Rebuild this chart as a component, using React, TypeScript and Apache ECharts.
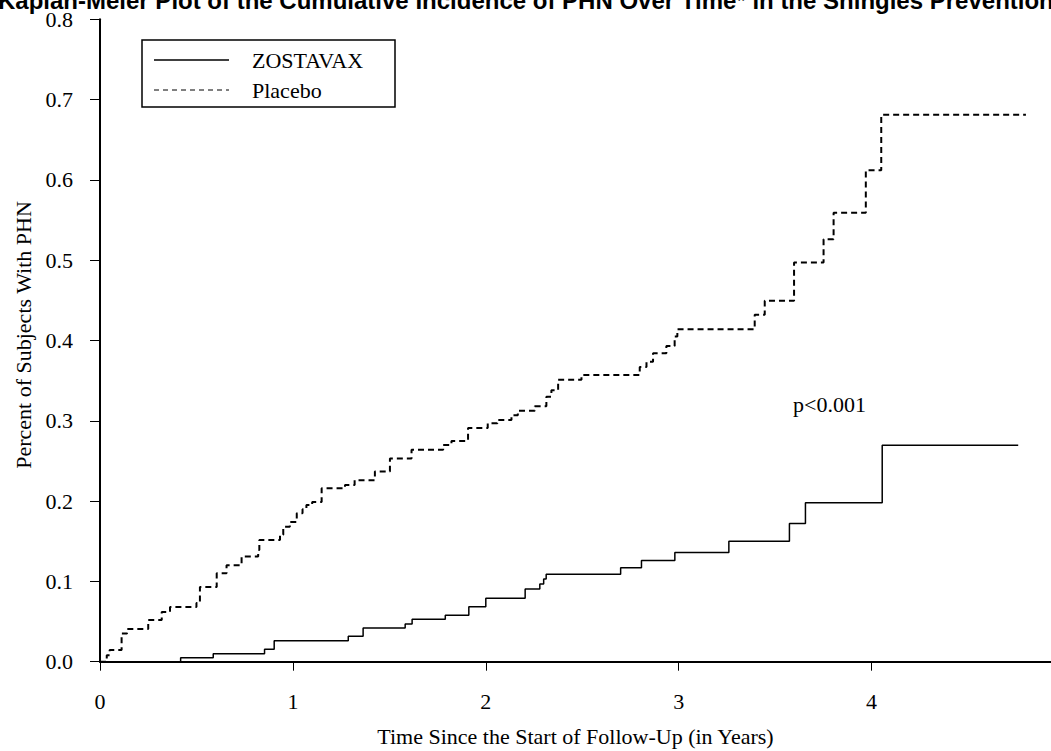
import React, { useEffect, useRef } from "react";
import * as echarts from "echarts";

const titleText =
  "Kaplan-Meier Plot of the Cumulative Incidence of PHN Over Time* in the Shingles Prevention";
const seriesNames = ["ZOSTAVAX", "Placebo"];
const xTicks = [0, 1, 2, 3, 4];
const xAxisTitle = "Time Since the Start of Follow-Up (in Years)";
const yAxisTitle = "Percent of Subjects With PHN";
const pValueLabel = "p<0.001";

const zostavaxTime = [
  0, 0.418, 0.587, 0.853, 0.903, 1.287, 1.364, 1.582, 1.618, 1.79, 1.912, 2.0,
  2.204, 2.28, 2.3, 2.313, 2.699, 2.807, 2.98, 3.26, 3.574, 3.657, 4.055, 4.76,
];
const zostavaxPct = [
  0, 0.005, 0.01, 0.0154, 0.026, 0.0316, 0.042, 0.047, 0.053, 0.058, 0.0685,
  0.079, 0.0905, 0.0968, 0.103, 0.109, 0.117, 0.126, 0.136, 0.15, 0.172, 0.198,
  0.2695, 0.2695,
];

const placeboTime = [
  0, 0.035, 0.05, 0.112, 0.14, 0.25, 0.32, 0.363, 0.5, 0.518, 0.605, 0.656,
  0.734, 0.82, 0.826, 0.933, 0.95, 0.984, 1.02, 1.05, 1.07, 1.1, 1.149, 1.27,
  1.32, 1.425, 1.503, 1.615, 1.779, 1.822, 1.908, 2.01, 2.06, 2.133, 2.166,
  2.254, 2.314, 2.34, 2.375, 2.496, 2.798, 2.833, 2.867, 2.936, 2.979, 2.993,
  3.394, 3.446, 3.598, 3.751, 3.803, 3.97, 4.05, 4.8,
];
const placeboPct = [
  0, 0.008, 0.0146, 0.035, 0.0407, 0.052, 0.062, 0.068, 0.073, 0.093, 0.11,
  0.12, 0.131, 0.139, 0.1515, 0.158, 0.168, 0.174, 0.185, 0.19, 0.195, 0.199,
  0.216, 0.22, 0.226, 0.237, 0.253, 0.264, 0.27, 0.275, 0.291, 0.297, 0.301,
  0.307, 0.3126, 0.318, 0.33, 0.338, 0.351, 0.357, 0.367, 0.3736, 0.384, 0.393,
  0.405, 0.414, 0.432, 0.4496, 0.497, 0.526, 0.559, 0.612, 0.681, 0.681,
];

const zip = (a: number[], b: number[]) => a.map((v, i) => [v, b[i]]);

export default function App() {
  const ref = useRef<HTMLDivElement>(null);
  useEffect(() => {
    const chart = echarts.init(ref.current!, null, { renderer: "svg" });
    const serif = "'Liberation Serif', 'Times New Roman', serif";
    const axisCommon = {
      axisLine: { show: true, onZero: false, lineStyle: { color: "#000", width: 2 } },
      splitLine: { show: false },
    };
    chart.setOption({
      animation: false,
      backgroundColor: "#fff",
      grid: {
        left: 100,
        right: 0,
        top: 19.3,
        bottom: 89.3,
        containLabel: false,
        outerBoundsMode: "none",
      },
      xAxis: {
        type: "value",
        min: 0,
        max: 4.93,
        interval: 1,
        ...axisCommon,
        axisTick: { show: true, length: 9, lineStyle: { color: "#000", width: 1 }, customValues: xTicks },
        axisLabel: {
          customValues: xTicks,
          color: "#000",
          fontFamily: serif,
          fontSize: 22,
          margin: 29,
          formatter: (v: number) => (Number.isInteger(v) ? String(v) : ""),
        },
        name: xAxisTitle,
        nameLocation: "middle",
        nameGap: 64,
        nameTextStyle: { color: "#000", fontFamily: serif, fontSize: 22 },
      },
      yAxis: {
        type: "value",
        min: 0,
        max: 0.8,
        interval: 0.1,
        ...axisCommon,
        axisTick: { show: true, length: 10, lineStyle: { color: "#000", width: 1 } },
        axisLabel: {
          color: "#000",
          fontFamily: serif,
          fontSize: 22,
          margin: 27,
          formatter: (v: number) => v.toFixed(1),
        },
      },
      series: [
        {
          name: seriesNames[0],
          type: "line",
          step: "end",
          showSymbol: false,
          data: zip(zostavaxTime, zostavaxPct),
          lineStyle: { color: "#000", width: 1.5 },
        },
        {
          name: seriesNames[1],
          type: "line",
          step: "end",
          showSymbol: false,
          data: zip(placeboTime, placeboPct),
          lineStyle: { color: "#000", width: 2, type: [6, 4] },
        },
      ],
      graphic: [
        {
          type: "text",
          x: -2,
          y: 0,
          style: {
            text: titleText,
            fill: "#000",
            font: "bold 24px 'Liberation Sans', Arial, sans-serif",
            verticalAlign: "middle",
          },
        },
        {
          type: "text",
          x: 23,
          y: 335,
          rotation: Math.PI / 2,
          style: {
            text: yAxisTitle,
            fill: "#000",
            font: `22px ${serif}`,
            align: "center",
            verticalAlign: "middle",
          },
        },
        {
          type: "rect",
          shape: { x: 142, y: 40, width: 253, height: 67 },
          style: { fill: "#fff", stroke: "#000", lineWidth: 1.5 },
        },
        {
          type: "line",
          shape: { x1: 154, y1: 60, x2: 229, y2: 60 },
          style: { stroke: "#000", lineWidth: 1.5 },
        },
        {
          type: "line",
          shape: { x1: 154, y1: 90, x2: 229, y2: 90 },
          style: { stroke: "#000", lineWidth: 1, lineDash: [5, 4] },
        },
        {
          type: "text",
          x: 252,
          y: 60,
          style: { text: seriesNames[0], fill: "#000", font: `22px ${serif}`, verticalAlign: "middle" },
        },
        {
          type: "text",
          x: 252,
          y: 90,
          style: { text: seriesNames[1], fill: "#000", font: `22px ${serif}`, verticalAlign: "middle" },
        },
        {
          type: "text",
          x: 793,
          y: 404,
          style: { text: pValueLabel, fill: "#000", font: `22px ${serif}`, verticalAlign: "middle" },
        },
      ],
    });
    return () => chart.dispose();
  }, []);
  return (
    <div
      ref={ref}
      style={{ position: "fixed", left: 0, top: 0, width: 1051, height: 751, background: "#fff" }}
    />
  );
}
